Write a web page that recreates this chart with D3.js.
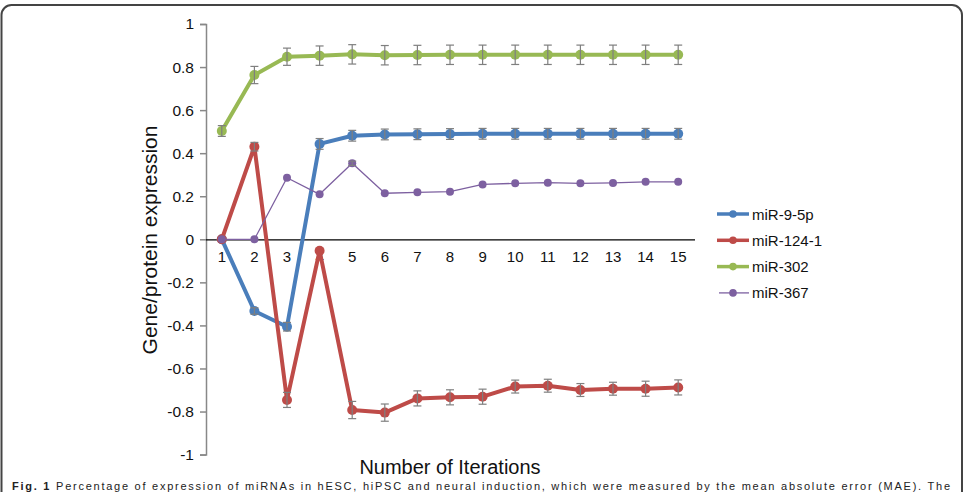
<!DOCTYPE html>
<html>
<head>
<meta charset="utf-8">
<script src="https://cdn.jsdelivr.net/npm/d3@7"></script>
<style>
  body { margin: 0; background: #fff; }
  svg { font-family: "Liberation Sans", Arial, sans-serif; }
</style>
</head>
<body>
<svg width="967" height="492"></svg>
<script>
// iterations on the x axis
const iterations = ["1","2","3","4","5","6","7","8","9","10","11","12","13","14","15"];
const yTicks = [-1, -0.8, -0.6, -0.4, -0.2, 0, 0.2, 0.4, 0.6, 0.8, 1];

// series values
const mir95p  = [0, -0.333, -0.406, 0.443, 0.481, 0.487, 0.488, 0.489, 0.49, 0.49, 0.49, 0.49, 0.49, 0.49, 0.49];
const mir1241 = [0, 0.43, -0.746, -0.053, -0.793, -0.805, -0.739, -0.734, -0.731, -0.684, -0.68, -0.70, -0.694, -0.694, -0.688];
const mir302  = [0.503, 0.763, 0.848, 0.853, 0.859, 0.855, 0.856, 0.857, 0.857, 0.857, 0.857, 0.857, 0.857, 0.857, 0.857];
const mir367  = [0, 0, 0.286, 0.209, 0.353, 0.214, 0.218, 0.221, 0.255, 0.26, 0.263, 0.26, 0.262, 0.267, 0.267];

// error bar half-widths
const err95p  = [0, 0.015, 0.02, 0.025, 0.025, 0.025, 0.025, 0.025, 0.025, 0.025, 0.025, 0.025, 0.025, 0.025, 0.025];
const err1241 = [0, 0.02, 0.035, 0, 0.04, 0.04, 0.035, 0.035, 0.035, 0.03, 0.03, 0.03, 0.03, 0.035, 0.035];
const err302  = [0.025, 0.04, 0.04, 0.045, 0.045, 0.045, 0.045, 0.045, 0.045, 0.045, 0.045, 0.045, 0.045, 0.045, 0.045];
const err367  = [0, 0, 0, 0, 0.01, 0, 0, 0, 0, 0, 0, 0, 0, 0, 0];

const seriesNames = ["miR-9-5p", "miR-124-1", "miR-302", "miR-367"];

const series = [
  { name: seriesNames[0], values: mir95p,  err: err95p,  color: "#4a7ebb", width: 4,   r: 5 },
  { name: seriesNames[1], values: mir1241, err: err1241, color: "#be4b48", width: 4,   r: 5 },
  { name: seriesNames[2], values: mir302,  err: err302,  color: "#98b954", width: 4,   r: 5 },
  { name: seriesNames[3], values: mir367,  err: err367,  color: "#7d60a0", width: 1.3, r: 4 }
];

const svg = d3.select("svg");

// frame round the figure
svg.append("rect")
  .attr("x", 1.5).attr("y", 5).attr("width", 960.5).attr("height", 520)
  .attr("rx", 10)
  .attr("fill", "none").attr("stroke", "#444").attr("stroke-width", 2);

const x = d3.scaleBand().domain(iterations).range([205.5, 694.5]);
const y = d3.scaleLinear().domain([-1, 1]).range([454.6, 24]);

// y axis (plain hyphen for negatives, like the original)
const yAxis = svg.append("g")
  .attr("transform", "translate(206,0)")
  .call(d3.axisLeft(y).tickValues(yTicks).tickSize(6).tickPadding(6)
    .tickFormat(d => String(+d.toFixed(1))));
yAxis.select(".domain").attr("stroke", "#888").attr("stroke-width", 1.5);
yAxis.selectAll(".tick line").attr("stroke", "#888").attr("stroke-width", 1.5);
yAxis.selectAll("text").attr("font-size", 15.5).attr("fill", "#111")
  .attr("font-family", "Liberation Sans, Arial, sans-serif");

// x axis along zero
const xAxis = svg.append("g")
  .attr("transform", `translate(0,${y(0)})`)
  .call(d3.axisBottom(x).tickSize(0).tickPadding(12));
xAxis.select(".domain").attr("stroke", "#000").attr("stroke-width", 1.2);
xAxis.selectAll("text").attr("font-size", 15).attr("fill", "#111")
  .attr("font-family", "Liberation Sans, Arial, sans-serif");

// axis titles
svg.append("text")
  .attr("transform", `translate(157,${240}) rotate(-90)`)
  .attr("text-anchor", "middle")
  .attr("font-size", 21).attr("fill", "#111")
  .text("Gene/protein expression");

svg.append("text")
  .attr("x", 450).attr("y", 474)
  .attr("text-anchor", "middle")
  .attr("font-size", 20).attr("fill", "#111")
  .text("Number of Iterations");

const cx = i => x(iterations[i]) + x.bandwidth() / 2;

const line = d3.line()
  .x((d, i) => cx(i))
  .y(d => y(d));

series.forEach(s => {
  svg.append("path")
    .datum(s.values)
    .attr("fill", "none")
    .attr("stroke", s.color)
    .attr("stroke-width", s.width)
    .attr("stroke-linejoin", "round")
    .attr("d", line);

  const g = svg.append("g");
  s.values.forEach((v, i) => {
    g.append("circle")
      .attr("cx", cx(i)).attr("cy", y(v)).attr("r", s.r)
      .attr("fill", s.color);
  });

  // error bars
  s.values.forEach((v, i) => {
    const e = s.err[i];
    if (!e) return;
    const x0 = cx(i);
    const eb = svg.append("g").attr("stroke", "#7f7f7f").attr("stroke-width", 1.2);
    eb.append("line").attr("x1", x0).attr("x2", x0).attr("y1", y(v + e)).attr("y2", y(v - e));
    eb.append("line").attr("x1", x0 - 4).attr("x2", x0 + 4).attr("y1", y(v + e)).attr("y2", y(v + e));
    eb.append("line").attr("x1", x0 - 4).attr("x2", x0 + 4).attr("y1", y(v - e)).attr("y2", y(v - e));
  });
});

// legend
const legend = svg.append("g").attr("transform", "translate(717,214)");
series.forEach((s, i) => {
  const row = legend.append("g").attr("transform", `translate(0,${i * 26.3})`);
  row.append("line")
    .attr("x1", s.width > 2 ? 0 : 2).attr("x2", 32)
    .attr("stroke", s.color).attr("stroke-width", s.width > 2 ? 3.5 : 1.3);
  row.append("circle").attr("cx", 16).attr("r", 3.8).attr("fill", s.color);
  row.append("text")
    .attr("x", 35).attr("y", 5.5)
    .attr("font-size", 15).attr("fill", "#111")
    .text(s.name);
});

// caption along the bottom edge, spread over the full width
const cap = svg.append("text").attr("x", 12).attr("y", 490).attr("font-size", 11).attr("fill", "#222")
  .attr("textLength", 938).attr("lengthAdjust", "spacing");
cap.append("tspan").attr("font-weight", "bold").text("Fig. 1 ");
cap.append("tspan").text("Percentage of expression of miRNAs in hESC, hiPSC and neural induction, which were measured by the mean absolute error (MAE). The");
</script>
</body>
</html>
